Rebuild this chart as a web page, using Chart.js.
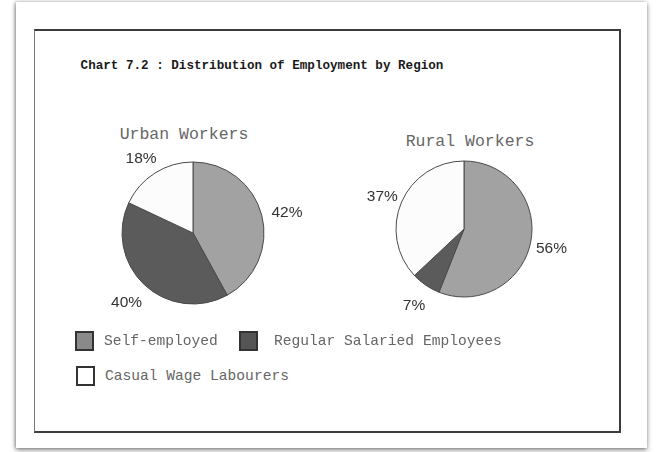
<!DOCTYPE html>
<html>
<head>
<meta charset="utf-8">
<script src="https://cdn.jsdelivr.net/npm/chart.js@4"></script>
<style>
  html, body { margin: 0; padding: 0; background: #ffffff; }
  body { width: 667px; height: 452px; position: relative; overflow: hidden; }
  #page { position: absolute; left: 16px; top: 2px; width: 631px; height: 446px; background: #fff;
          box-shadow: 0 2px 5px rgba(0,0,0,0.45), -1px 0 3px rgba(0,0,0,0.25); }
  #box { position: absolute; left: 34px; top: 29px; width: 584px; height: 400px;
         border-top: 2px solid #3c3c3c; border-right: 2px solid #3c3c3c; border-bottom: 2px solid #3c3c3c;
         border-left: 1px solid #777; }
  .txt { position: absolute; white-space: nowrap; font-family: "Liberation Mono", "DejaVu Sans Mono", monospace; }
  #title { left: 262px; top: 66px; transform: translate(-50%, -50%); font-size: 12.6px; font-weight: bold; color: #1a1a1a; }
  .sub { transform: translate(-50%, -50%); font-size: 16.5px; color: #666; }
  canvas { position: absolute; }
  .leg { position: absolute; display: flex; align-items: center; font-family: "Liberation Mono", monospace; font-size: 14.6px; color: #666; white-space: nowrap; }
  .sw { width: 15px; height: 16px; border: 2px solid #333; margin-right: 10px; box-sizing: content-box; }
</style>
</head>
<body>
<div id="page"></div>
<div id="box"></div>
<div id="title" class="txt">Chart 7.2 : Distribution of Employment by Region</div>
<div id="sub0" class="txt sub" style="left:184px; top:134px;"></div>
<div id="sub1" class="txt sub" style="left:470px; top:141px;"></div>
<canvas id="c0" width="240" height="240" style="left:73px; top:113px; width:240px; height:240px;"></canvas>
<canvas id="c1" width="240" height="240" style="left:344px; top:109px; width:240px; height:240px;"></canvas>
<div id="legend"></div>
<script>
const categories = ['Self-employed', 'Regular Salaried Employees', 'Casual Wage Labourers'];
const regionTitles = ['Urban Workers', 'Rural Workers'];
const urbanValues = [42, 40, 18];
const ruralValues = [56, 7, 37];

const sliceColors = ['#a2a2a2', '#5b5b5b', '#fcfcfc'];
const legendColors = ['#8a8a8a', '#555555', '#ffffff'];

document.getElementById('sub0').textContent = regionTitles[0];
document.getElementById('sub1').textContent = regionTitles[1];

const labelPlugin = {
  id: 'outerLabels',
  afterDatasetsDraw(chart, args, opts) {
    const ctx = chart.ctx;
    const meta = chart.getDatasetMeta(0);
    const data = chart.data.datasets[0].data;
    ctx.save();
    ctx.font = '15.5px "Liberation Sans", Arial, sans-serif';
    ctx.fillStyle = '#333';
    ctx.textAlign = 'center';
    ctx.textBaseline = 'middle';
    meta.data.forEach((arc, i) => {
      const p = arc.getProps(['x', 'y', 'startAngle', 'endAngle', 'outerRadius'], true);
      const mid = (p.startAngle + p.endAngle) / 2;
      const dx = p.outerRadius + (opts.extraX || 21);
      const dy = p.outerRadius + 21;
      ctx.fillText(data[i] + '%', p.x + Math.cos(mid) * dx, p.y + Math.sin(mid) * dy + 3);
    });
    ctx.restore();
  }
};

function makePie(id, values, radius, extraX) {
  return new Chart(document.getElementById(id), {
    type: 'pie',
    data: {
      labels: categories,
      datasets: [{
        data: values,
        backgroundColor: sliceColors,
        borderColor: '#4a4a4a',
        borderWidth: 1
      }]
    },
    options: {
      responsive: false,
      animation: false,
      devicePixelRatio: 1,
      radius: radius,
      layout: { padding: 0 },
      plugins: { legend: { display: false }, tooltip: { enabled: false }, outerLabels: { extraX: extraX } }
    },
    plugins: [labelPlugin]
  });
}

makePie('c0', urbanValues, 71, 26);
makePie('c1', ruralValues, 68, 21);

// legend
const legendPos = [[75, 331], [239, 331], [76, 366]];
const legend = document.getElementById('legend');
categories.forEach((c, i) => {
  const item = document.createElement('div');
  item.className = 'leg';
  item.style.left = legendPos[i][0] + 'px';
  item.style.top = legendPos[i][1] + 'px';
  const sw = document.createElement('div');
  sw.className = 'sw';
  sw.style.background = legendColors[i];
  if (i === 1) sw.style.marginRight = '16px';
  const t = document.createElement('span');
  t.textContent = c;
  item.appendChild(sw);
  item.appendChild(t);
  legend.appendChild(item);
});
</script>
</body>
</html>
